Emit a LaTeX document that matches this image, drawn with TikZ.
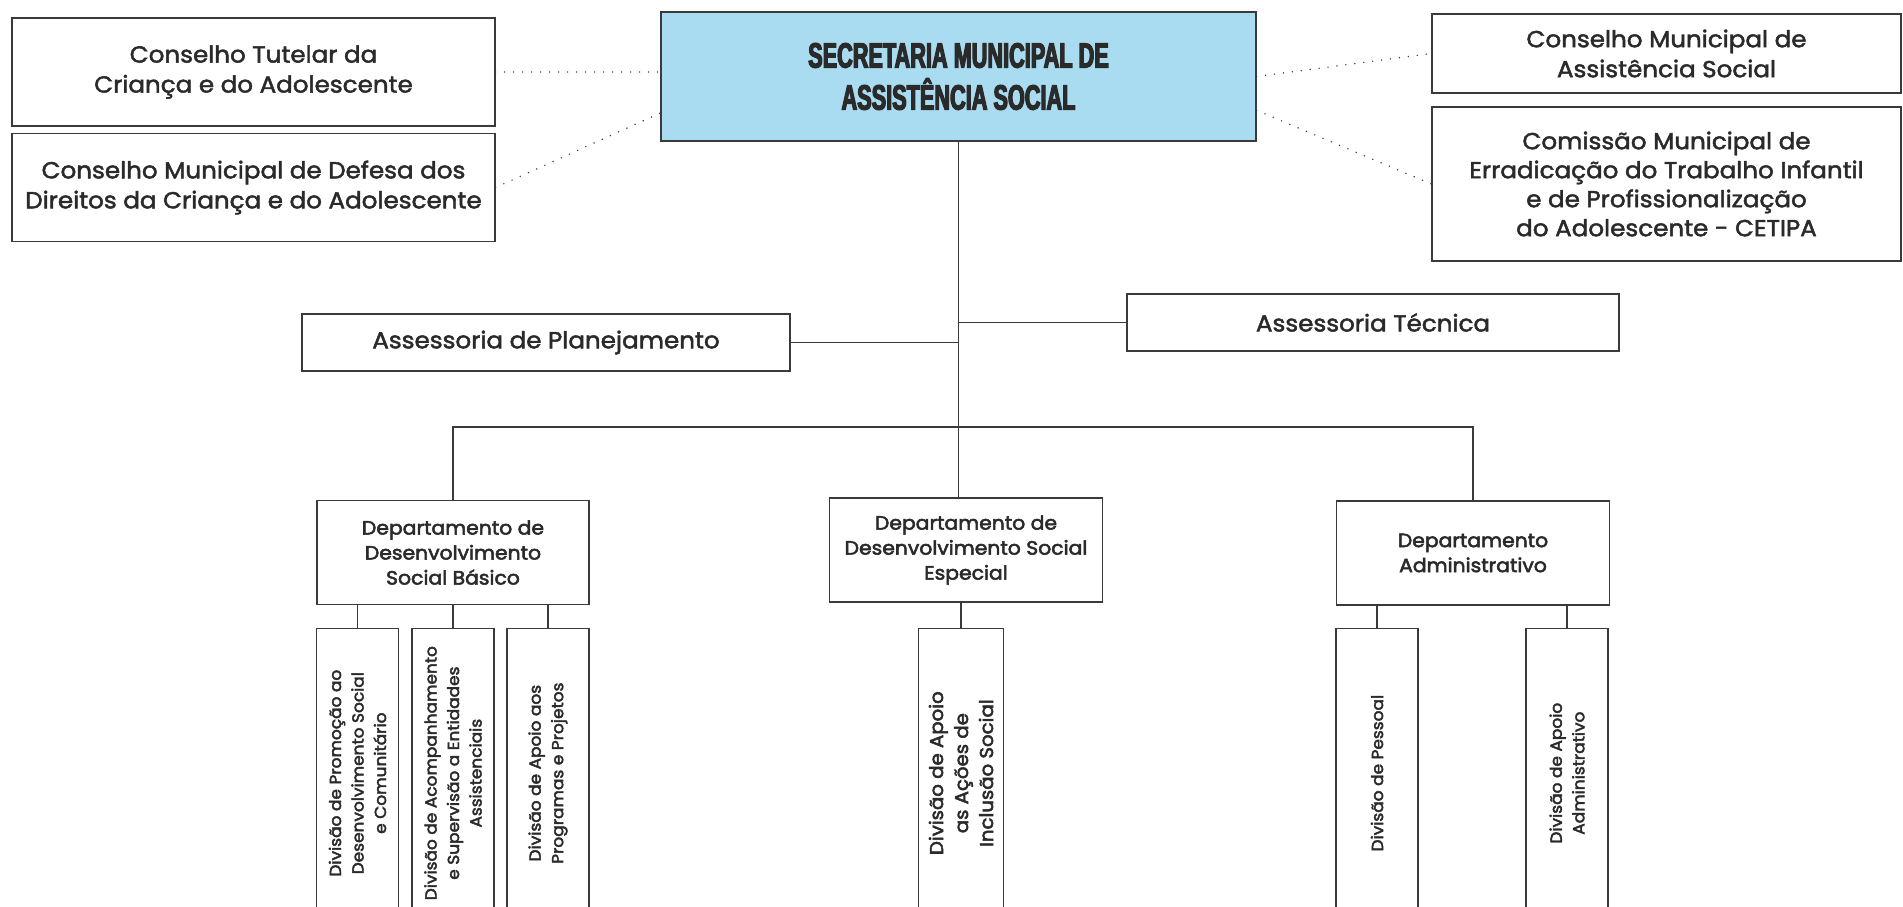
\documentclass[tikz,border=0pt]{standalone}
\usepackage{fontspec}
\setmainfont{Poppins}[FakeStretch=1.06, FakeBold=2]
\newfontfamily\deptfont{Poppins}[FakeStretch=1.06, FakeBold=2.8]
\newfontfamily\titlefont{Liberation Sans}[FakeStretch=0.62, FakeBold=3.5]
\usepackage{tikz}
\usetikzlibrary{calc}
\definecolor{linegray}{HTML}{3A3A3A}
\definecolor{ink}{HTML}{2A2A2A}
\definecolor{secblue}{HTML}{A9DCF0}
\tikzset{
  box/.style={draw=linegray, line width=1.3pt, fill=white, align=center, text=ink, inner sep=2pt},
  head/.style={box, fill=secblue, font=\titlefont\bfseries\fontsize{35}{42}\selectfont},
  cons/.style={box, font=\fontsize{23.2}{30}\selectfont},
  dept/.style={box, minimum width=273pt, minimum height=104pt, font=\deptfont\fontsize{19.2}{25}\selectfont},
  divi/.style={box, rotate=90, anchor=east, minimum width=290pt, minimum height=82pt, font=\deptfont\fontsize{16}{22.5}\selectfont},
  link/.style={draw=linegray, line width=1.1pt},
  dots/.style={draw=linegray, line width=1.6pt, line cap=round, dash pattern=on 0pt off 9pt}
}

\begin{document}
\begin{tikzpicture}[x=1pt, y=-1pt]
  \useasboundingbox (0,0) rectangle (1903,907);
  \clip (0,0) rectangle (1903,907);

  \node[head, minimum width=595pt, minimum height=129pt] (sec) at (958.5,76.5) {SECRETARIA MUNICIPAL DE\\ASSISTÊNCIA SOCIAL};

  % councils
  \node[cons, minimum width=483pt, minimum height=108pt] (tutelar) at (253.5,72) {Conselho Tutelar da\\Criança e do Adolescente};
  \node[cons, minimum width=483pt, minimum height=108pt] (cmdca) at (253.5,187.5) {Conselho Municipal de Defesa dos\\Direitos da Criança e do Adolescente};
  \node[cons, minimum width=469pt, minimum height=79pt] (cmas) at (1666.5,53.5) {Conselho Municipal de\\Assistência Social};
  \node[cons, minimum width=469pt, minimum height=154pt, font=\fontsize{23.2}{29}\selectfont] (cetipa) at (1666.5,184) {Comissão Municipal de\\Erradicação do Trabalho Infantil\\e de Profissionalização\\do Adolescente - CETIPA};

  \draw[dots] (tutelar.east) -- (tutelar.east -| sec.west);
  \draw[dots] (cmdca.east) -- ($(sec.north west)!0.78!(sec.south west)$);
  \draw[dots] (sec.east) -- (cmas.west);
  \draw[dots] ($(sec.north east)!0.76!(sec.south east)$) -- (cetipa.west);

  % advisory
  \node[cons, minimum width=488pt, minimum height=57pt] (asplan) at (546,342.5) {Assessoria de Planejamento};
  \node[cons, minimum width=492pt, minimum height=57pt] (astec) at (1373,322.5) {Assessoria Técnica};

  % departments
  \node[dept, minimum width=272pt] (depbas) at (453,552.5) {Departamento de\\Desenvolvimento\\Social Básico};
  \node[dept] (depesp) at (966,550) {Departamento de\\Desenvolvimento Social\\Especial};
  \node[dept] (depadm) at (1473,553) {Departamento\\Administrativo};

  \coordinate (bus) at (958.5,427);
  \draw[link] (sec.south) -- (sec.south |- depesp.north);
  \draw[link] (asplan.east) -- (asplan.east -| sec.south);
  \draw[link] (astec.west -| sec.south) -- (astec.west);
  \draw[link] (depbas.north) -- (depbas.north |- bus) -- (depadm.north |- bus) -- (depadm.north);

  % divisions
  \node[divi] (divprom) at (357.5,627.5) {Divisão de Promoção ao\\Desenvolvimento Social\\e Comunitário};
  \node[divi] (divacomp) at (453,627.5) {Divisão de Acompanhamento\\e Supervisão a Entidades\\Assistenciais};
  \node[divi] (divprog) at (548,627.5) {Divisão de Apoio aos\\Programas e Projetos};
  \node[divi, minimum height=85pt, font=\deptfont\fontsize{18.6}{25}\selectfont] (divincl) at (961,627.5) {Divisão de Apoio\\as Ações de\\Inclusão Social};
  \node[divi] (divpes) at (1377,627.5) {Divisão de Pessoal};
  \node[divi] (divapadm) at (1567,627.5) {Divisão de Apoio\\Administrativo};

  \foreach \d in {divprom,divacomp,divprog}
    \draw[link] (\d.east |- depbas.south) -- (\d.east);
  \draw[link] (divincl.east |- depesp.south) -- (divincl.east);
  \foreach \d in {divpes,divapadm}
    \draw[link] (\d.east |- depadm.south) -- (\d.east);
\end{tikzpicture}
\end{document}
